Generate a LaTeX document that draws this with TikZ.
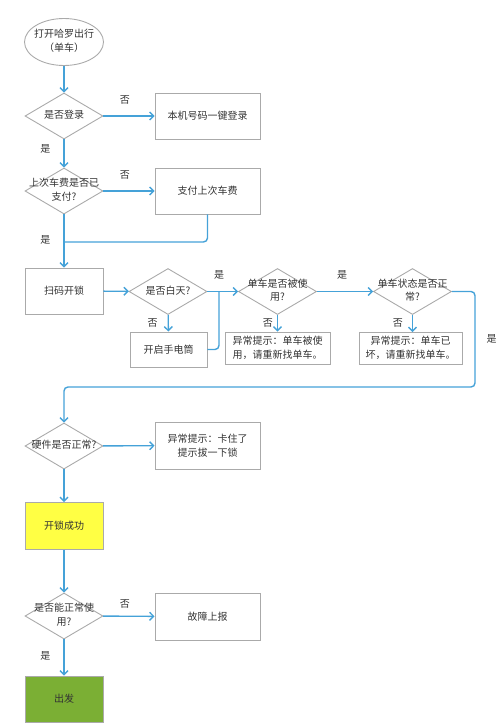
\documentclass[tikz,border=0pt]{standalone}
\usepackage{fontspec}
\setmainfont{Noto Sans CJK SC}
\usetikzlibrary{shapes.geometric,arrows.meta}
\definecolor{flowblue}{HTML}{45A2D8}
\definecolor{framegray}{HTML}{AAAAAA}
\definecolor{txtgray}{HTML}{333333}
\definecolor{lockyellow}{HTML}{FFFF44}
\definecolor{gogreen}{HTML}{7BAF34}
\newcommand\midtxt[1]{\makebox[0pt]{\begin{tabular}{@{}c@{}}#1\end{tabular}}}

\begin{document}
\begin{tikzpicture}[x=1pt, y=-1pt,
    font=\fontsize{10}{13.5}\selectfont, text=txtgray,
    box/.style={draw=framegray, line width=0.9pt, rectangle, minimum width=105pt,
      minimum height=46pt, inner sep=0pt, align=center},
    ask/.style={draw=framegray, line width=0.9pt, diamond, minimum width=78pt,
      minimum height=46pt, inner sep=0pt},
    flow/.style={draw=flowblue, line width=1.4pt, rounded corners=4pt},
    tip/.style={-{Straight Barb[length=4pt,width=8pt]}},
    yesno/.style={inner sep=0pt, text=txtgray}]
                \useasboundingbox (0,0) rectangle (500,723);
                \node[draw=framegray, line width=0.9pt, ellipse, minimum width=79pt,
                    minimum height=47pt, inner sep=0pt] (start) at (64,42) {\midtxt{打开哈罗出行\\（单车）}};
                \node[ask] (login) at (64,116) {\midtxt{是否登录}};
                \node[box] (quick) at (207.5,116) {本机号码一键登录};
                \node[ask] (paid) at (64,191) {\midtxt{上次车费是否已\\支付?}};
                \node[box] (pay) at (207.5,191) {支付上次车费};
                \node[box, minimum width=78pt] (scan) at (64,291) {扫码开锁};
                \node[ask] (day) at (168,291.5) {\midtxt{是否白天?}};
                \node[box, minimum width=77pt, minimum height=35pt] (torch) at (168.5,349.5) {开启手电筒};
                \node[ask] (used) at (277.5,291.5) {\midtxt{单车是否被使\\用?}};
                \node[box, minimum height=32pt] (usedmsg) at (277.5,348) {异常提示：单车被使\\用，请重新找单车。};
                \node[ask] (state) at (412.5,291.5) {\midtxt{单车状态是否正\\常?}};
                \node[box, minimum width=103pt, minimum height=32pt] (brokenmsg) at (410.5,348) {异常提示：单车已\\坏，请重新找单车。};
                \node[ask] (hw) at (64,446) {\midtxt{硬件是否正常?}};
                \node[box, minimum height=47pt] (stuck) at (207.5,445.5) {异常提示：卡住了\\提示拔一下锁};
                \node[box, minimum width=78pt, minimum height=47pt, fill=lockyellow] (unlock) at (64,526) {开锁成功};
                \node[ask] (ok) at (64,616) {\midtxt{是否能正常使\\用?}};
                \node[box, minimum height=47pt] (report) at (207.5,616.5) {故障上报};
                \node[box, minimum width=78pt, minimum height=46pt, fill=gogreen] (go) at (64,699) {出发};

                \coordinate (paymerge) at (64,242);
                \coordinate (torchmerge) at (219,292);
                \coordinate (stateturn) at (475,387);
                \coordinate (brokentop) at (412.5,332);

                \draw[flow, tip]
                    (start) edge (login)
                    (login) edge node[yesno, above=11pt, pos=0.42] {否} (quick)
                    (login) edge node[yesno, left=13pt, pos=0.34] {是} (paid)
                    (paid) edge node[yesno, above=11pt, pos=0.42] {否} (pay)
                    (paid) edge node[yesno, left=13pt, pos=0.47] {是} (scan)
                    (scan) edge (day)
                    (day) edge node[yesno, above=11pt, pos=0.38] {是} (used)
                    (day) edge node[yesno, left=10pt, pos=0.5] {否} (torch)
                    (used) edge node[yesno, above=11pt, pos=0.45] {是} (state)
                    (used) edge node[yesno, left=4pt, pos=0.5] {否} (usedmsg)
                    (hw) edge (stuck)
                    (hw) edge (unlock)
                    (unlock) edge (ok)
                    (ok) edge node[yesno, above=7pt, pos=0.42] {否} (report)
                    (ok) edge node[yesno, left=13pt, pos=0.46] {是} (go)
                    ;
                \draw[flow, tip] (state.south) -- node[yesno, left=9pt, pos=0.5] {否} (brokentop);
                \draw[flow] (pay.south) |- (paymerge);
                \draw[flow] (torch.east) -| (torchmerge);
                \draw[flow, tip] (state.east) -| node[yesno, right=11pt, pos=0.75] {是} (stateturn) -| (hw.north);
            \end{tikzpicture}
\end{document}
